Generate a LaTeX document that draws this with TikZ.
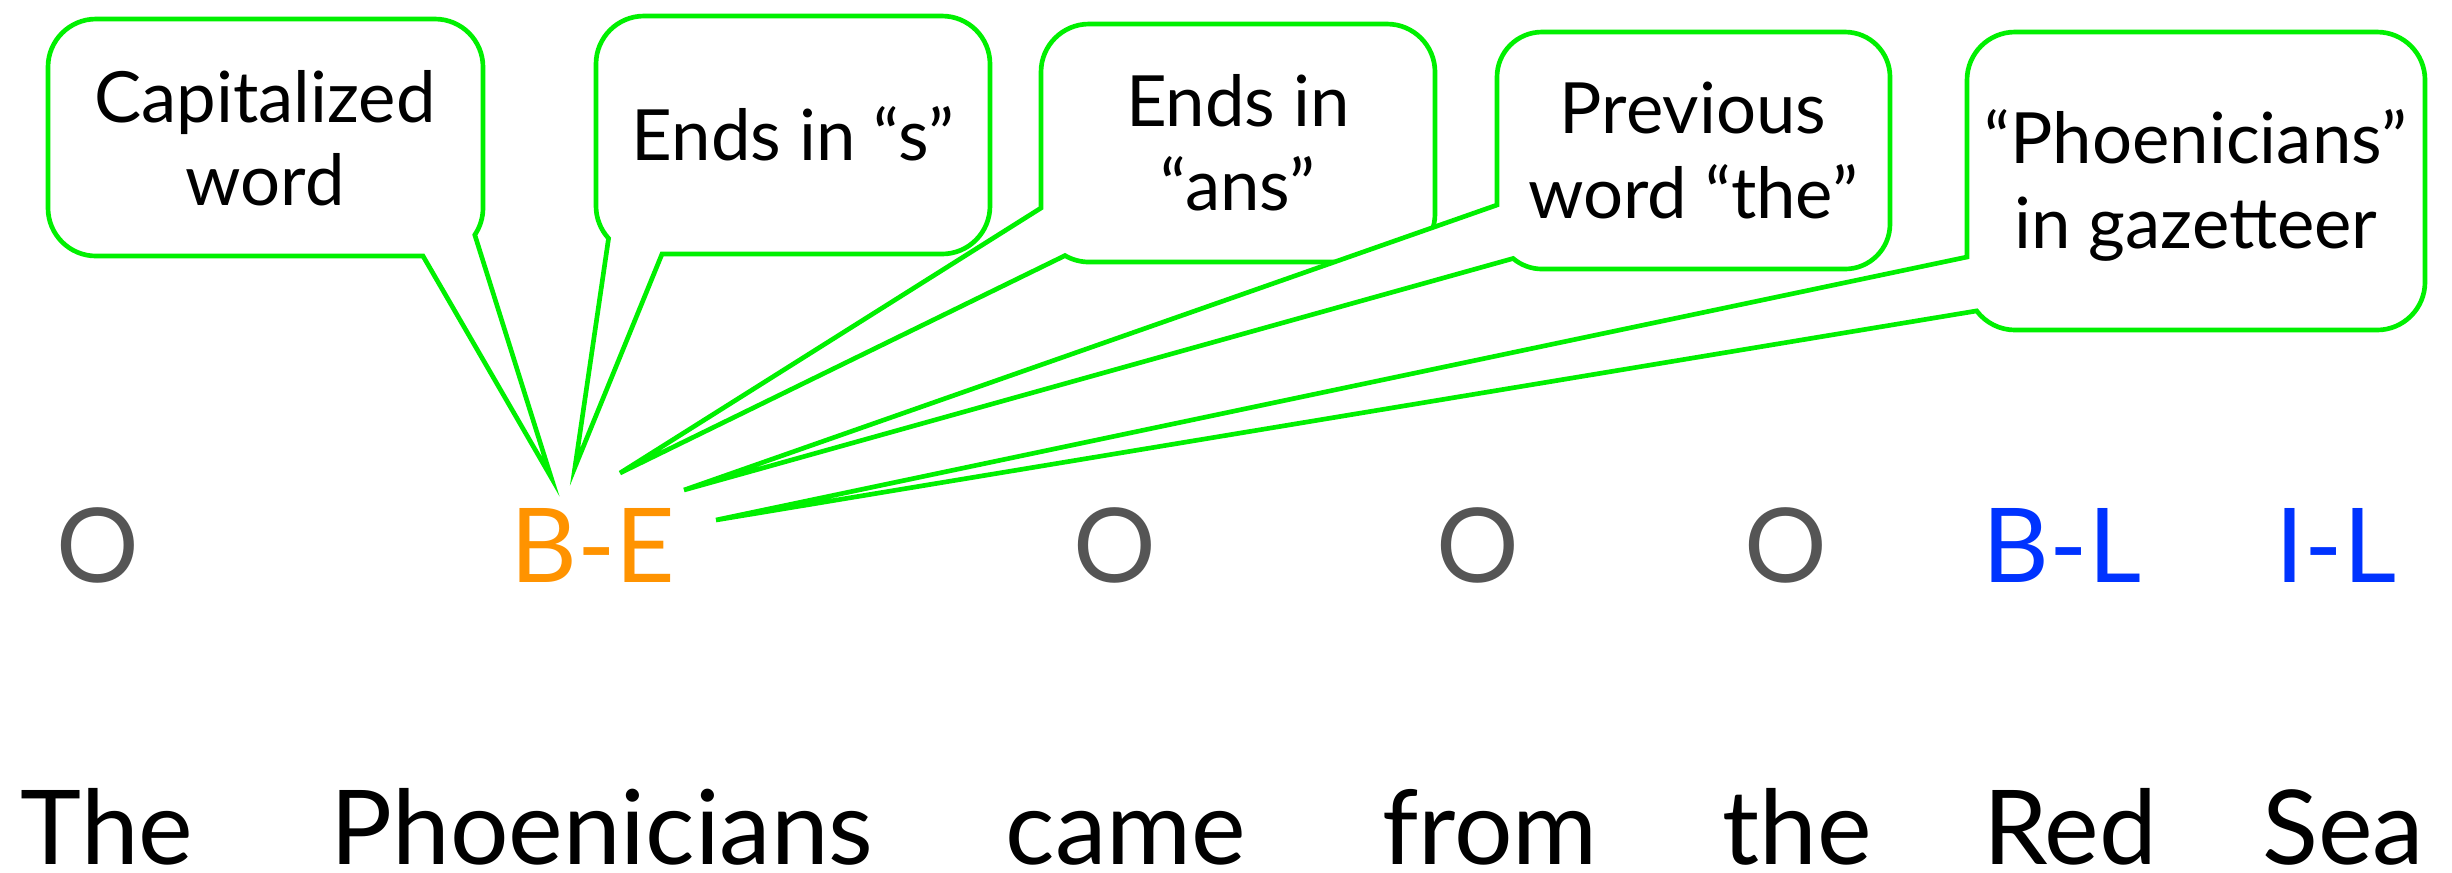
\documentclass[tikz,border=0pt]{standalone}
\usepackage{fontspec}
\setmainfont{Lato}
\usetikzlibrary{calc}
\definecolor{bubgreen}{RGB}{0,240,0}
\definecolor{tagorange}{RGB}{255,147,0}
\definecolor{tagblue}{RGB}{0,51,255}
\definecolor{taggray}{RGB}{85,85,85}
\begin{document}
\begin{tikzpicture}[x=0.3pt,y=-0.3pt,
  bubble/.style={draw=bubgreen, line width=1.4pt, fill=white},
  btext/.style={font=\fontsize{21.2}{26}\selectfont, inner sep=0pt, anchor=base, text=black},
  tagO/.style={font=\fontsize{31}{38}\selectfont, inner sep=0pt, anchor=base, text=taggray},
  tagE/.style={font=\fontsize{31}{38}\selectfont, inner sep=0pt, anchor=base, text=tagorange},
  tagL/.style={font=\fontsize{31}{38}\selectfont, inner sep=0pt, anchor=base, text=tagblue},
  word/.style={font=\fontsize{31}{38}\selectfont, inner sep=0pt, anchor=base, text=black}]
\useasboundingbox[fill=white] (0,0) rectangle (2452,872);

% tags
\node[tagO] (t1) at (98,582) {O};
\node[tagE] (t2) at (593,582) {B-E};
\node[tagO] (t3) at (1115,582) {O};
\node[tagO] (t4) at (1478,582) {O};
\node[tagO] (t5) at (1786,582) {O};
\node[tagL] (t6) at (2062,582) {B-L};
\node[tagL] (t7) at (2336,582) {I-L};

% words
\node[word] (w1) at (107,864) {The};
\node[word] (w2) at (602,864) {Phoenicians};
\node[word] (w3) at (1126,864) {came};
\node[word] (w4) at (1490,864) {from};
\node[word] (w5) at (1797,864) {the};
\node[word] (w6) at (2070,864) {Red};
\node[word] (w7) at (2343,864) {Sea};

% tips of the callouts
\coordinate (tip1) at (551,477);
\coordinate (tip2) at (575,467);
\coordinate (tip3) at (620,473);
\coordinate (tip4) at (684,490);
\coordinate (tip5) at (716,520);

% bubble 1
\draw[bubble] (tip1) -- (423,256) -- (96,256) arc[start angle=90,end angle=180,radius=48]
  -- (48,67) arc[start angle=180,end angle=270,radius=48]
  -- (435,19) arc[start angle=270,end angle=360,radius=48]
  -- (483,208) arc[start angle=0,end angle=34,radius=48] -- cycle;
\node[btext] (b1a) at (265,122) {Capitalized};
\node[btext] (b1b) at (265,205) {word};

% bubble 2
\draw[bubble] (tip2) -- ($(644,206)+(137.6:48)$) arc[start angle=137.6,end angle=180,radius=48]
  -- (596,64) arc[start angle=180,end angle=270,radius=48]
  -- (942,16) arc[start angle=270,end angle=360,radius=48]
  -- (990,206) arc[start angle=0,end angle=90,radius=48]
  -- (662,254) -- cycle;
\node[btext] (b2a) at (793,160) {Ends in “s”};

% bubble 3
\draw[bubble] (tip3) -- (1041,208) -- (1041,72) arc[start angle=180,end angle=270,radius=48]
  -- (1387,24) arc[start angle=270,end angle=360,radius=48]
  -- (1435,214) arc[start angle=0,end angle=90,radius=48]
  -- (1089,262) arc[start angle=90,end angle=120,radius=48] -- cycle;
\node[btext] (b3a) at (1238,126) {Ends in};
\node[btext] (b3b) at (1238,210) {“ans”};

% bubble 4
\draw[bubble] (tip4) -- (1497,205) -- (1497,77) arc[start angle=180,end angle=270,radius=45]
  -- (1845,32) arc[start angle=270,end angle=360,radius=45]
  -- (1890,224) arc[start angle=0,end angle=90,radius=45]
  -- (1542,269) arc[start angle=90,end angle=130,radius=45] -- cycle;
\node[btext] (b4a) at (1693,133) {Previous};
\node[btext] (b4b) at (1693,218) {word “the”};

% bubble 5
\draw[bubble] (tip5) -- (1967,257) -- (1967,80) arc[start angle=180,end angle=270,radius=48]
  -- (2377,32) arc[start angle=270,end angle=360,radius=48]
  -- (2425,282) arc[start angle=0,end angle=90,radius=48]
  -- (2015,330) arc[start angle=90,end angle=143,radius=48] -- cycle;
\node[btext] (b5a) at (2196,163) {“Phoenicians”};
\node[btext] (b5b) at (2196,248) {in gazetteer};
\end{tikzpicture}
\end{document}
